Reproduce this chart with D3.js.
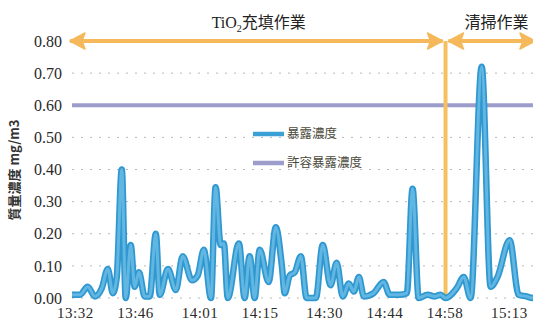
<!DOCTYPE html>
<html>
<head>
<meta charset="utf-8">
<script src="https://cdn.jsdelivr.net/npm/d3@7"></script>
<style>
  body { margin: 0; background: #fff; }
  svg { display: block; }
</style>
</head>
<body>
<div id="chart"></div>
<script>
// sample times and exposure concentration (mg/m3)
const times = [
  "13:31:20","13:33:10","13:35:00","13:36:40","13:38:15","13:39:40","13:40:50","13:41:45",
  "13:42:55","13:43:50","13:45:00","13:45:55","13:46:55","13:48:15","13:49:25","13:50:50",
  "13:51:45","13:53:40","13:55:30","13:57:05","13:59:15","14:00:35","14:02:00","14:03:40",
  "14:04:45","14:05:55","14:06:40","14:07:35","14:10:10","14:11:30","14:12:40","14:13:50",
  "14:15:00","14:17:05","14:18:45","14:20:10","14:20:50","14:22:00","14:23:10","14:24:35",
  "14:25:55","14:28:05","14:29:40","14:31:30","14:32:55","14:34:20","14:35:45","14:36:55",
  "14:38:05","14:39:15","14:41:30","14:43:50","14:45:15","14:47:35","14:49:15","14:50:35",
  "14:52:00","14:54:05","14:55:45","14:57:05","14:58:15","15:00:50","15:02:30","15:04:05",
  "15:06:40","15:08:45","15:10:20","15:13:10","15:15:15","15:17:05","15:18:30","15:20:00"
];
const exposure = [
  0.01, 0.01, 0.035, 0.005, 0.03, 0.09, 0.015, 0.065,
  0.40, 0.0, 0.165, 0.035, 0.08, 0.005, 0.005, 0.20,
  0.01, 0.09, 0.025, 0.13, 0.055, 0.07, 0.15, 0.0,
  0.345, 0.165, 0.17, 0.0, 0.17, 0.0, 0.13, 0.0,
  0.15, 0.05, 0.22, 0.10, 0.015, 0.07, 0.08, 0.13,
  0.0, 0.0, 0.165, 0.04, 0.11, 0.005, 0.045, 0.02,
  0.065, 0.005, 0.015, 0.05, 0.01, 0.01, 0.015, 0.34,
  0.0, 0.01, 0.005, 0.01, 0.0, 0.03, 0.065, 0.0,
  0.72, 0.035, 0.065, 0.18, 0.01, 0.005, 0.0, 0.005
];
const limitValue = 0.60;
const tickLabels = ["13:32","13:46","14:01","14:15","14:30","14:44","14:58","15:13"];
const yTickValues = [0, 0.1, 0.2, 0.3, 0.4, 0.5, 0.6, 0.7, 0.8];
const legendLabels = ["暴露濃度", "許容暴露濃度"];
const phaseSplit = "14:58:15";
const phaseNames = ["充填作業", "清掃作業"];

const width = 533, height = 322;
const parseT = d3.timeParse("%H:%M:%S");
const parseHM = d3.timeParse("%H:%M");

const data = times.map((t, i) => ({ t: parseT(t), v: exposure[i] }));

const svg = d3.select("#chart").append("svg")
  .attr("width", width).attr("height", height);

const x = d3.scaleTime()
  .domain(d3.extent(data, d => d.t))
  .range([72, 539]);
const y = d3.scaleLinear().domain([0, 0.8]).range([298, 41]);

// gridlines
svg.append("g").selectAll("line").data(yTickValues).enter().append("line")
  .attr("x1", 72).attr("x2", width)
  .attr("y1", d => y(d)).attr("y2", d => y(d))
  .attr("stroke", "#b8b8b8").attr("stroke-width", 1)
  .attr("stroke-dasharray", "2,7");

// y axis labels
const yAxis = svg.append("g").attr("transform", "translate(62,0)")
  .call(d3.axisLeft(y).tickValues(yTickValues).tickFormat(d3.format(".2f")).tickSize(0).tickPadding(0));
yAxis.select(".domain").remove();
yAxis.selectAll("text")
  .attr("font-family", "Liberation Serif, serif").attr("font-size", 16).attr("fill", "#2a2a2a");

// x axis labels
const xAxis = svg.append("g").attr("transform", "translate(0,307)")
  .call(d3.axisBottom(x).tickValues(tickLabels.map(parseHM)).tickFormat(d3.timeFormat("%H:%M")).tickSize(0).tickPadding(0));
xAxis.select(".domain").remove();
xAxis.selectAll("text")
  .attr("font-family", "Liberation Serif, serif").attr("font-size", 15).attr("fill", "#2a2a2a")
  .attr("letter-spacing", 0.5);

// y title
svg.append("text")
  .attr("transform", "translate(19,170) rotate(-90)")
  .attr("text-anchor", "middle")
  .attr("font-family", "Noto Sans CJK JP, sans-serif").attr("font-size", 13)
  .attr("font-weight", "bold").attr("fill", "#333")
  .text("質量濃度 mg/m3");

// allowable exposure line
svg.append("line")
  .attr("x1", 72).attr("x2", width)
  .attr("y1", y(limitValue)).attr("y2", y(limitValue))
  .attr("stroke", "#9d9dcc").attr("stroke-width", 4);

// phase split vertical line
const sx = x(parseT(phaseSplit));
svg.append("line")
  .attr("x1", sx).attr("x2", sx)
  .attr("y1", y(0.8)).attr("y2", y(0))
  .attr("stroke", "#f6c060").attr("stroke-width", 4);

// exposure series
const line = d3.line().x(d => x(d.t)).y(d => Math.min(y(d.v), y(0))).curve(d3.curveMonotoneX);
svg.append("path").datum(data)
  .attr("fill", "none").attr("stroke", "#2f98d0").attr("stroke-width", 6.5)
  .attr("stroke-linejoin", "round").attr("d", line);
svg.append("path").datum(data)
  .attr("fill", "none").attr("stroke", "#62b6e2").attr("stroke-width", 3)
  .attr("stroke-linejoin", "round").attr("d", line);

// phase arrows
const arrowY = y(0.8);
function arrow(x1, x2, heads) {
  const g = svg.append("g");
  g.append("line").attr("x1", x1).attr("x2", x2).attr("y1", arrowY).attr("y2", arrowY)
    .attr("stroke", "#f5b95c").attr("stroke-width", 4);
  heads.forEach(([tip, dir]) => {
    g.append("path")
      .attr("d", `M${tip},${arrowY} L${tip + dir * 15},${arrowY - 8} L${tip + dir * 12},${arrowY} L${tip + dir * 15},${arrowY + 8} Z`)
      .attr("fill", "#f5b95c").attr("stroke", "#f5b95c").attr("stroke-width", 1.5)
      .attr("stroke-linejoin", "round");
  });
}
arrow(x.range()[0] - 2, sx - 3, [[x.range()[0] - 2, 1], [sx - 3, -1]]);
arrow(sx + 3, x.range()[1] - 4, [[sx + 3, 1], [x.range()[1] - 4, -1]]);

// phase titles
const t1 = svg.append("text")
  .attr("x", (x.range()[0] + sx) / 2).attr("y", 28)
  .attr("text-anchor", "middle").attr("fill", "#222").attr("font-size", 16);
t1.append("tspan").attr("font-family", "Liberation Serif, serif").text("TiO");
t1.append("tspan").attr("font-family", "Liberation Serif, serif").attr("font-size", 10).attr("dy", 4).text("2");
t1.append("tspan").attr("font-family", "Noto Sans CJK JP, sans-serif").attr("dy", -4).text(phaseNames[0]);

svg.append("text")
  .attr("x", sx + 19).attr("y", 28)
  .attr("fill", "#222").attr("font-size", 16)
  .attr("font-family", "Noto Sans CJK JP, sans-serif")
  .text(phaseNames[1]);

// legend
const legendColors = ["#3aa0d6", "#9d9dcc"];
const legend = svg.append("g").selectAll("g").data(legendLabels).enter().append("g")
  .attr("transform", (d, i) => `translate(253,${134 + i * 29})`);
legend.append("line").attr("x1", 0).attr("x2", 31).attr("y1", 0).attr("y2", 0)
  .attr("stroke", (d, i) => legendColors[i]).attr("stroke-width", 4.5);
legend.append("text").attr("x", 34).attr("y", 0).attr("dy", "0.35em")
  .attr("font-family", "Noto Sans CJK JP, sans-serif").attr("font-size", 12.5)
  .attr("fill", "#4a4a3a").text(d => d);
</script>
</body>
</html>
